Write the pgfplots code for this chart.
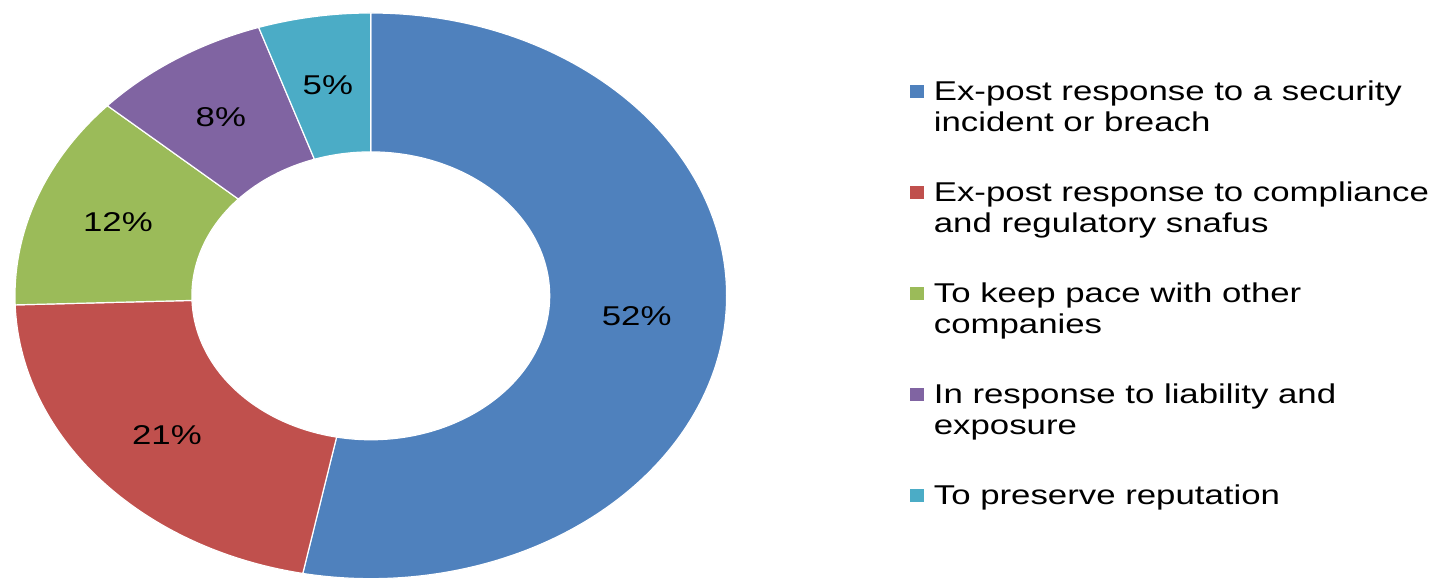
\documentclass[border=0pt]{standalone}
\usepackage{fontspec}
\setmainfont{Liberation Sans}
\usepackage{graphicx}
\usepackage{pgfplots}
\usepackage{pgfplotstable}
\pgfplotsset{compat=1.18}
\definecolor{cA}{HTML}{4F81BD}
\definecolor{cB}{HTML}{C0504D}
\definecolor{cC}{HTML}{9BBB59}
\definecolor{cD}{HTML}{8064A2}
\definecolor{cE}{HTML}{4BACC6}
\pgfplotstableread{
label value
A 52
B 21
C 12
D 8
E 5
}\datatable
\newcommand\getval[2]{\pgfplotstablegetelem{#1}{value}\of\datatable\global\let#2\pgfplotsretval}
\newcommand\slice[3]{\fill[#3,draw=white,line width=0.6bp] (axis cs:{371+356*cos(#1)},{284+283*sin(#1)}) arc[start angle=#1,end angle=#2,x radius=178bp,y radius=141.5bp] -- (axis cs:{371+179*cos(#2)},{284+144*sin(#2)}) arc[start angle=#2,end angle=#1,x radius=89.5bp,y radius=72bp] -- cycle;}
\newcommand\lab[1]{\fontsize{13.6bp}{16bp}\selectfont\scalebox{1.28}[1]{#1}}
\begin{document}
\begin{tikzpicture}
\getval{0}\vA \getval{1}\vB \getval{2}\vC \getval{3}\vD \getval{4}\vE
\pgfmathsetmacro\tot{\vA+\vB+\vC+\vD+\vE}
\pgfmathsetmacro\angA{90}
\pgfmathsetmacro\angB{90-\vA/\tot*360}
\pgfmathsetmacro\angC{90-(\vA+\vB)/\tot*360}
\pgfmathsetmacro\angD{90-(\vA+\vB+\vC)/\tot*360}
\pgfmathsetmacro\angE{90-(\vA+\vB+\vC+\vD)/\tot*360}
\pgfmathsetmacro\angF{-270}
\begin{axis}[width=714.5bp,height=290bp,scale only axis,
  xmin=0,xmax=1429,ymin=0,ymax=580,hide axis,clip=false]
\addplot[draw=none] coordinates {(0,0) (1429,580)};
\slice{\angA}{\angB}{cA}
\slice{\angB}{\angC}{cB}
\slice{\angC}{\angD}{cC}
\slice{\angD}{\angE}{cD}
\slice{\angE}{\angF}{cE}
% percentage labels
\node at (axis cs:637,264) {\lab{52\%}};
\node at (axis cs:167,145) {\lab{21\%}};
\node at (axis cs:118,358) {\lab{12\%}};
\node at (axis cs:221,463) {\lab{8\%}};
\node at (axis cs:328,495) {\lab{5\%}};
% legend
\fill[cA] (axis cs:910,495) rectangle (axis cs:925,482);
\fill[cB] (axis cs:910,394) rectangle (axis cs:925,381);
\fill[cC] (axis cs:910,293) rectangle (axis cs:925,280);
\fill[cD] (axis cs:910,192) rectangle (axis cs:925,179);
\fill[cE] (axis cs:910,91) rectangle (axis cs:925,78);
\node[anchor=base west,inner sep=0] at (axis cs:934,479) {\lab{Ex-post response to a security}};
\node[anchor=base west,inner sep=0] at (axis cs:934,448.3) {\lab{incident or breach}};
\node[anchor=base west,inner sep=0] at (axis cs:934,378) {\lab{Ex-post response to compliance}};
\node[anchor=base west,inner sep=0] at (axis cs:934,347.3) {\lab{and regulatory snafus}};
\node[anchor=base west,inner sep=0] at (axis cs:934,277) {\lab{To keep pace with other}};
\node[anchor=base west,inner sep=0] at (axis cs:934,246.3) {\lab{companies}};
\node[anchor=base west,inner sep=0] at (axis cs:934,176) {\lab{In response to liability and}};
\node[anchor=base west,inner sep=0] at (axis cs:934,145.3) {\lab{exposure}};
\node[anchor=base west,inner sep=0] at (axis cs:934,75) {\lab{To preserve reputation}};
\end{axis}
\end{tikzpicture}
\end{document}
